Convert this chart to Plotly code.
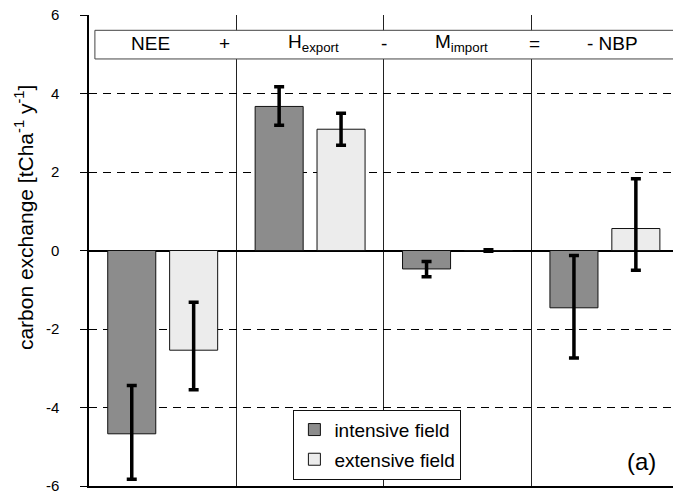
import plotly.graph_objects as go

# ---- data ----
categories = ["NEE", "H_export", "M_import", "NBP"]
intensive = [-4.67, 3.67, -0.47, -1.46]
intensive_err_plus = [1.23, 0.50, 0.19, 1.33]
intensive_err_minus = [1.16, 0.48, 0.20, 1.28]
extensive = [-2.54, 3.09, 0.0, 0.56]
extensive_err_plus = [1.22, 0.41, 0.02, 1.27]
extensive_err_minus = [1.01, 0.41, 0.02, 1.06]
series_names = ["intensive field", "extensive field"]
y_ticks = [-6, -4, -2, 0, 2, 4, 6]
equation_terms = ["NEE", "+", "H<sub>export</sub>", "-", "M<sub>import</sub>", "=", "- NBP"]
equation_pos = [-0.08, 0.42, 1.02, 1.50, 2.03, 2.52, 3.05]

FONT = "Liberation Sans, Arial, sans-serif"

fig = go.Figure()
fig.add_trace(go.Bar(
    x=categories, y=intensive, name=series_names[0], legendgroup="a",
    marker=dict(color="#8c8c8c", line=dict(color="#111111", width=1)),
    error_y=dict(type="data", symmetric=False, array=intensive_err_plus,
                 arrayminus=intensive_err_minus, color="black", thickness=3.5, width=5),
))
fig.add_trace(go.Bar(
    x=categories, y=extensive, name=series_names[1], legendgroup="b",
    marker=dict(color="#ececec", line=dict(color="#111111", width=1)),
    error_y=dict(type="data", symmetric=False, array=extensive_err_plus,
                 arrayminus=extensive_err_minus, color="black", thickness=3.5, width=5),
))

# equation box
fig.add_shape(type="rect", xref="x", yref="y", x0=-0.46, x1=3.7, y0=4.88, y1=5.61,
              fillcolor="white", line=dict(color="#444444", width=1), layer="above")
for term, pos in zip(equation_terms, equation_pos):
    fig.add_annotation(x=pos, y=5.28, xref="x", yref="y", text=term, showarrow=False,
                       xanchor="center", yanchor="middle",
                       font=dict(family=FONT, size=19, color="black"))

fig.add_annotation(x=3.25, y=-5.38, xref="x", yref="y", text="(a)", showarrow=False,
                   xanchor="center", yanchor="middle",
                   font=dict(family=FONT, size=24, color="black"))

fig.add_annotation(x=-0.112, y=0.57, xref="paper", yref="paper", textangle=-90,
                   xanchor="center", yanchor="middle",
                   text="carbon exchange [tCha<sup>-1</sup> y<sup>-1</sup>]", showarrow=False,
                   font=dict(family=FONT, size=21, color="black"))

fig.update_layout(
    width=673, height=495,
    margin=dict(l=89, r=0, t=15, b=9, autoexpand=False),
    paper_bgcolor="white", plot_bgcolor="white",
    barmode="group", bargap=0.16, bargroupgap=0.224,
    font=dict(family=FONT, color="black"),
    legend=dict(x=0.35, y=0.162, xanchor="left", yanchor="top",
                bgcolor="white", bordercolor="#111111", borderwidth=1,
                font=dict(family=FONT, size=19, color="black"),
                traceorder="grouped", tracegroupgap=2),
    xaxis=dict(type="category", range=[-0.5, 3.462], showticklabels=False, automargin=False,
               tickson="boundaries", ticks="", showgrid=True, gridcolor="#222222", gridwidth=1,
               showline=True, linecolor="black", linewidth=1.5, mirror=False),
    yaxis=dict(range=[-6, 6], tickvals=y_ticks, ticktext=[str(v) for v in y_ticks],
               automargin=False,
               ticks="outside", ticklen=7, tickcolor="black", tickwidth=1,
               ticklabelstandoff=18, ticklabeloverflow="allow",
               tickfont=dict(family=FONT, size=15, color="black"),
               showgrid=True, gridcolor="black", gridwidth=1, griddash="8px,6px",
               zeroline=True, zerolinecolor="black", zerolinewidth=1.5,
               showline=True, linecolor="black", linewidth=1.5),
)

fig.write_html("out.html", config={"displayModeBar": False},
               post_script="document.body.style.margin='0';document.body.style.padding='0';")
